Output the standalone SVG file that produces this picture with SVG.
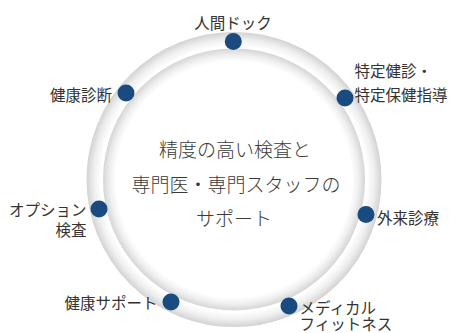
<svg xmlns="http://www.w3.org/2000/svg" width="457" height="333" viewBox="0 0 457 333">
  <defs>
    <radialGradient id="gOuter" gradientUnits="userSpaceOnUse" cx="234" cy="179.5" r="147.5">
      <stop offset="0.90" stop-color="#ffffff"/>
      <stop offset="0.95" stop-color="#efefef"/>
      <stop offset="1" stop-color="#d2d2d2"/>
    </radialGradient>
    <radialGradient id="gInner" gradientUnits="userSpaceOnUse" cx="234" cy="179.5" r="131">
      <stop offset="0.90" stop-color="#ffffff"/>
      <stop offset="0.95" stop-color="#efefef"/>
      <stop offset="1" stop-color="#d5d5d5"/>
    </radialGradient>
    <style>
      .lbl { font-family: "Noto Sans CJK JP", "Noto Sans", sans-serif; font-size: 15.5px; fill: #333333; }
      .ctr { font-family: "Noto Sans CJK JP", "Noto Sans", sans-serif; font-size: 19px; fill: #3a3a3a; text-anchor: middle; font-weight: 300; }
      .dot { fill: #1a4b80; }
    </style>
  </defs>
  <rect width="457" height="333" fill="#ffffff"/>
  <g id="connectors">
    <circle cx="234" cy="179.5" r="140.5" fill="none" stroke="url(#gOuter)" stroke-width="14"/>
    <circle cx="234" cy="179.5" r="124.5" fill="none" stroke="url(#gInner)" stroke-width="13"/>
  </g>
  <g id="center">
    <text class="ctr" x="235" y="157">精度の高い検査と</text>
    <text class="ctr" x="236" y="192">専門医・専門スタッフの</text>
    <text class="ctr" x="234" y="226">サポート</text>
  </g>
  <g id="n-ningen-dock">
    <circle class="dot" cx="233.3" cy="41.5" r="8.5"/>
    <text class="lbl" x="233" y="29" text-anchor="middle">人間ドック</text>
  </g>
  <g id="n-kenko-shindan">
    <circle class="dot" cx="126" cy="93" r="8.5"/>
    <text class="lbl" x="112" y="100.5" text-anchor="end">健康診断</text>
  </g>
  <g id="n-tokutei">
    <circle class="dot" cx="345" cy="98" r="8.5"/>
    <text class="lbl" x="354.5" y="77" text-anchor="start">特定健診・</text>
    <text class="lbl" x="354.5" y="101" text-anchor="start">特定保健指導</text>
  </g>
  <g id="n-gairai">
    <circle class="dot" cx="366" cy="214.5" r="8.5"/>
    <text class="lbl" x="377" y="224" text-anchor="start">外来診療</text>
  </g>
  <g id="n-option">
    <circle class="dot" cx="99" cy="209" r="8.5"/>
    <text class="lbl" x="86.5" y="215.5" text-anchor="end">オプション</text>
    <text class="lbl" x="86.5" y="235.5" text-anchor="end">検査</text>
  </g>
  <g id="n-kenko-support">
    <circle class="dot" cx="171" cy="302" r="8.5"/>
    <text class="lbl" x="157.5" y="309" text-anchor="end">健康サポート</text>
  </g>
  <g id="n-medical">
    <circle class="dot" cx="289" cy="306" r="8.5"/>
    <text class="lbl" x="299.5" y="313.5" text-anchor="start">メディカル</text>
    <text class="lbl" x="299.5" y="330" text-anchor="start">フィットネス</text>
  </g>
</svg>
